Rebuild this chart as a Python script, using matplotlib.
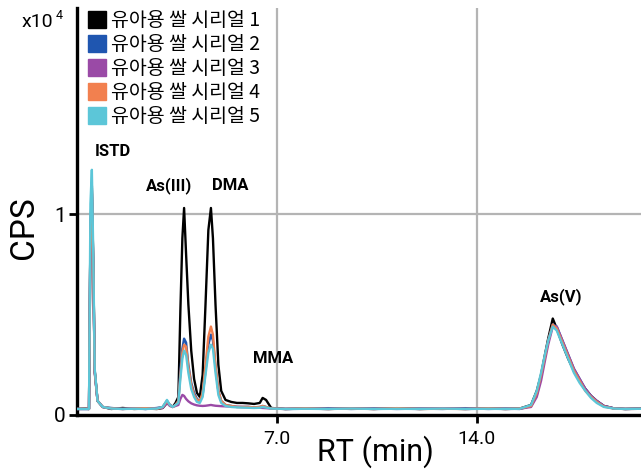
import matplotlib
matplotlib.use("Agg")
import matplotlib.pyplot as plt
from matplotlib.patches import Patch

# ---- data (RT in min, intensity in 1e4 CPS) ----
rt = [0.0, 0.3, 0.42, 0.47, 0.52, 0.57, 0.62, 0.72, 0.9, 1.2,
      1.6, 2.0, 2.4, 2.8, 3.0, 3.15, 3.25, 3.35, 3.45, 3.55,
      3.62, 3.69, 3.75, 3.82, 3.9, 4.0, 4.1, 4.2, 4.3, 4.4,
      4.5, 4.6, 4.69, 4.76, 4.85, 4.95, 5.05, 5.2, 5.4, 5.6,
      5.8, 6.0, 6.2, 6.4, 6.5, 6.62, 6.8, 7.3, 8.0, 8.8,
      9.6, 10.4, 11.2, 12.0, 12.8, 13.6, 14.4, 15.0, 15.5, 15.9,
      16.1, 16.25, 16.4, 16.5, 16.66, 16.8, 17.0, 17.2, 17.4, 17.6,
      17.8, 18.0, 18.2, 18.45, 18.8, 19.2, 19.75]

cereal_1 = [0.03, 0.032, 0.03, 0.90, 1.14, 0.75, 0.22, 0.07, 0.04, 0.03,
            0.035, 0.03, 0.032, 0.03, 0.035, 0.06, 0.05, 0.04, 0.06, 0.09,
            0.52, 0.88, 1.03, 0.80, 0.55, 0.32, 0.18, 0.11, 0.09, 0.20,
            0.55, 0.92, 1.03, 0.88, 0.55, 0.25, 0.12, 0.075, 0.065, 0.06,
            0.06, 0.058, 0.055, 0.06, 0.085, 0.075, 0.035, 0.03, 0.032, 0.03,
            0.033, 0.03, 0.034, 0.03, 0.032, 0.03, 0.033, 0.03, 0.032, 0.05,
            0.12, 0.20, 0.31, 0.38, 0.48, 0.43, 0.35, 0.28, 0.22, 0.17,
            0.13, 0.095, 0.07, 0.045, 0.033, 0.03, 0.032]

cereal_2 = [0.03, 0.03, 0.03, 0.90, 1.13, 0.74, 0.22, 0.07, 0.04, 0.035,
            0.03, 0.034, 0.03, 0.035, 0.04, 0.07, 0.05, 0.04, 0.05, 0.07,
            0.22, 0.33, 0.38, 0.36, 0.25, 0.16, 0.11, 0.08, 0.07, 0.10,
            0.22, 0.35, 0.40, 0.37, 0.24, 0.12, 0.07, 0.05, 0.045, 0.04,
            0.04, 0.04, 0.038, 0.04, 0.045, 0.04, 0.033, 0.03, 0.031, 0.034,
            0.03, 0.033, 0.03, 0.032, 0.03, 0.034, 0.03, 0.032, 0.03, 0.045,
            0.10, 0.19, 0.30, 0.37, 0.45, 0.44, 0.37, 0.30, 0.23, 0.18,
            0.13, 0.095, 0.07, 0.045, 0.033, 0.03, 0.032]

cereal_3 = [0.03, 0.03, 0.03, 0.88, 1.10, 0.72, 0.21, 0.07, 0.04, 0.032,
            0.03, 0.033, 0.03, 0.034, 0.035, 0.06, 0.045, 0.04, 0.045, 0.05,
            0.08, 0.10, 0.095, 0.08, 0.068, 0.058, 0.052, 0.048, 0.046, 0.045,
            0.046, 0.048, 0.05, 0.048, 0.046, 0.045, 0.044, 0.043, 0.042, 0.041,
            0.04, 0.04, 0.038, 0.036, 0.035, 0.034, 0.032, 0.03, 0.032, 0.03,
            0.033, 0.03, 0.032, 0.03, 0.034, 0.03, 0.032, 0.03, 0.031, 0.04,
            0.09, 0.17, 0.28, 0.35, 0.44, 0.44, 0.37, 0.30, 0.23, 0.18,
            0.13, 0.095, 0.07, 0.045, 0.033, 0.03, 0.031]

cereal_4 = [0.03, 0.031, 0.03, 0.89, 1.12, 0.74, 0.22, 0.07, 0.04, 0.033,
            0.03, 0.032, 0.034, 0.03, 0.04, 0.07, 0.05, 0.04, 0.05, 0.07,
            0.20, 0.31, 0.35, 0.34, 0.24, 0.15, 0.10, 0.075, 0.07, 0.11,
            0.25, 0.39, 0.44, 0.40, 0.25, 0.12, 0.07, 0.05, 0.045, 0.04,
            0.04, 0.04, 0.038, 0.04, 0.045, 0.04, 0.033, 0.03, 0.033, 0.03,
            0.032, 0.03, 0.034, 0.03, 0.031, 0.03, 0.033, 0.03, 0.032, 0.045,
            0.11, 0.20, 0.30, 0.37, 0.45, 0.43, 0.36, 0.29, 0.22, 0.17,
            0.12, 0.09, 0.065, 0.042, 0.032, 0.03, 0.031]

cereal_5 = [0.03, 0.03, 0.03, 1.05, 1.22, 0.80, 0.23, 0.07, 0.04, 0.032,
            0.03, 0.031, 0.03, 0.032, 0.04, 0.075, 0.05, 0.04, 0.05, 0.06,
            0.18, 0.28, 0.32, 0.30, 0.21, 0.13, 0.09, 0.065, 0.06, 0.09,
            0.20, 0.31, 0.35, 0.33, 0.21, 0.10, 0.06, 0.045, 0.04, 0.038,
            0.037, 0.036, 0.035, 0.036, 0.04, 0.037, 0.032, 0.03, 0.031, 0.03,
            0.032, 0.03, 0.031, 0.03, 0.032, 0.03, 0.031, 0.03, 0.031, 0.05,
            0.12, 0.21, 0.31, 0.37, 0.44, 0.42, 0.35, 0.28, 0.21, 0.16,
            0.12, 0.085, 0.06, 0.04, 0.032, 0.03, 0.031]

labels = ["유아용 쌀 시리얼 1", "유아용 쌀 시리얼 2", "유아용 쌀 시리얼 3",
          "유아용 쌀 시리얼 4", "유아용 쌀 시리얼 5"]
colors = ["#000000", "#1f56b0", "#9a4aa6", "#f2804f", "#5cc6d8"]

x_ticks = [7.0, 14.0]
x_ticklabels = ["7.0", "14.0"]
y_ticks = [0, 1]
y_ticklabels = ["0", "1"]

peak_names = ["ISTD", "As(III)", "DMA", "MMA", "As(V)"]
peak_pos = [(1.26, 1.31), (3.22, 1.14), (5.36, 1.14), (6.86, 0.28), (16.94, 0.59)]

# ---- figure ----
W, H = 641, 470
fig = plt.figure(figsize=(6.41, 4.70), dpi=100)
ax = fig.add_axes([77 / W, 1 - 415 / H, (W - 77) / W, (415 - 8) / H])

series = [cereal_1, cereal_2, cereal_3, cereal_4, cereal_5]
for ys, c in zip(series, colors):
    ax.plot(rt, ys, color=c, lw=1.7, zorder=3)

ax.set_xlim(0, 19.75)
ax.set_ylim(0, 2.025)

ax.grid(True, color="#b4b4b4", lw=1.6, zorder=0)
ax.set_axisbelow(True)

for s in ["top", "right"]:
    ax.spines[s].set_visible(False)
for s in ["left", "bottom"]:
    ax.spines[s].set_linewidth(2.4)
    ax.spines[s].set_color("black")

ax.set_xticks(x_ticks)
ax.set_xticklabels(x_ticklabels, fontfamily="Roboto", fontsize=14)
ax.set_yticks(y_ticks)
ax.set_yticklabels(y_ticklabels, fontfamily="Roboto", fontsize=15)
ax.tick_params(axis="x", direction="out", length=6, width=2, pad=5, color="black")
ax.tick_params(axis="y", direction="out", length=6, width=2, pad=2, color="black")

fig.text(375 / W, 1 - 452 / H, "RT (min)", fontfamily="Roboto", fontsize=22,
         ha="center", va="center")
fig.text(24 / W, 1 - 228 / H, "CPS", fontfamily="Roboto", fontsize=24,
         ha="center", va="center", rotation=90)

fig.text(22 / W, 1 - 27 / H, "x10", fontfamily="Roboto", fontsize=14, ha="left", va="baseline")
fig.text(56 / W, 1 - 19 / H, "4", fontfamily="Roboto", fontsize=9, ha="left", va="baseline")

for name, (px, py) in zip(peak_names, peak_pos):
    ax.text(px, py, name, fontfamily="Roboto", fontweight="bold", fontsize=12,
            ha="center", va="center", zorder=5)

handles = [Patch(facecolor=c, edgecolor=c) for c in colors]
leg = ax.legend(handles, labels, loc="upper left",
                bbox_to_anchor=((84 - 77) / (W - 77), 1.0 + 2 / 407),
                frameon=False, prop={"family": ["Noto Sans CJK KR", "DejaVu Sans"], "size": 14},
                handlelength=0.95, handleheight=0.95, handletextpad=0.25,
                labelspacing=0.16, borderaxespad=0.0, borderpad=0.2)

fig.savefig("out.png", dpi=100)
